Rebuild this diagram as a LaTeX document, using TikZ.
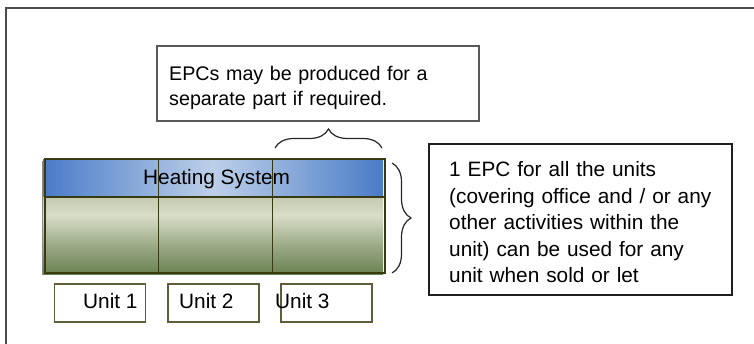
\documentclass[tikz,border=0pt]{standalone}
\usepackage{fontspec}
\setmainfont{Liberation Sans}
\usetikzlibrary{decorations.pathreplacing}
\definecolor{blueedge}{HTML}{4A7BC8}
\definecolor{bluemid}{HTML}{BDD0E9}
\definecolor{gtop}{HTML}{C4CBB0}
\definecolor{glight}{HTML}{D8DDC7}
\definecolor{gbot}{HTML}{6A8253}
\definecolor{olive}{HTML}{3A3A12}
\definecolor{unitline}{HTML}{5E5E3A}
\pgfdeclareverticalshading{greenbar}{100bp}{color(0bp)=(gbot); color(25bp)=(gbot); color(42bp)=(gbot!60!glight); color(63bp)=(glight); color(75bp)=(gtop); color(100bp)=(gtop)}
\tikzset{
  x=1pt, y=-1pt,
  txt/.style={font=\fontsize{20.8}{24.5}\selectfont, inner sep=0pt, text=black},
  infobox/.style={draw=#1, line width=1.2pt, inner sep=0pt, fill=white},
  unitbox/.style={draw=unitline, line width=1.1pt, fill=white, inner sep=0pt, minimum width=91pt, minimum height=38pt},
  bracedeco/.style={draw=black!85, line width=1.2pt, decorate, decoration={brace, amplitude=19pt}},
  divider/.style={draw=olive, line width=1pt}
}
\begin{document}
\begin{tikzpicture}
\useasboundingbox (0,0) rectangle (754,343);
% outer frame
\coordinate (fbl) at (6,344);
\coordinate (ftl) at (6,8);
\coordinate (ftr) at (755,8);
\draw[black!70, line width=1.4pt] (fbl) -- (ftl) -- (ftr);

% top note
\node[infobox=black!65, minimum width=322pt, minimum height=75pt] (topbox) at (318,83.5) {};
\node[txt, font=\fontsize{19.7}{24.5}\selectfont, anchor=base west, text width=300pt, align=left] (toptext) at (169,80.7)
  {EPCs may be produced for a\\separate part if required.};

% building
\fill[black!45] (42,161) rectangle (383,275);
\shade[left color=blueedge, right color=blueedge, middle color=bluemid] (43,159) rectangle (383,197);
\shade[shading=greenbar] (43,197) rectangle (383,274);
\node[draw=olive, line width=1.1pt, minimum width=340pt, minimum height=114pt, inner sep=0pt] (bldg) at (215,216) {};
\draw[draw=olive, line width=1.1pt] (bldg.west |- 0,197) -- (bldg.east |- 0,197);
\coordinate (d1t) at (158,159);
\coordinate (d1b) at (158,273);
\coordinate (d2t) at (272,159);
\coordinate (d2b) at (272,273);
\draw[divider] (d1t) -- (d1b);
\draw[divider] (d2t) -- (d2b);
\node[txt, anchor=base west] (heat) at (143,184.5) {Heating System};

% units
\node[unitbox] (u1box) at (100,303) {};
\node[unitbox] (u2box) at (213.5,303) {};
\node[unitbox] (u3box) at (326.5,303) {};
\node[txt, anchor=base west] (u1) at (83,308) {Unit 1};
\node[txt, anchor=base west] (u2) at (179,308) {Unit 2};
\node[txt, anchor=base west] (u3) at (275,308) {Unit 3};

% braces
\coordinate (tbl) at (275,148);
\coordinate (tbr) at (382,148);
\draw[bracedeco] (tbl) -- (tbr);
\coordinate (rbt) at (392,163);
\coordinate (rbb) at (392,273);
\draw[bracedeco] (rbt) -- (rbb);

% right note
\node[infobox=black!88, minimum width=303pt, minimum height=151pt] (rightbox) at (580.5,219.5) {};
\node[txt, font=\fontsize{20.8}{26.5}\selectfont, anchor=base west, text width=280pt, align=left] (righttext) at (449,176.5)
  {1 EPC for all the units\\(covering office and / or any\\other activities within the\\unit) can be used for any\\unit when sold or let};
\end{tikzpicture}
\end{document}
